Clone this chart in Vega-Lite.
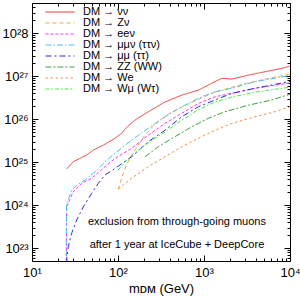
{
  "$schema": "https://vega.github.io/schema/vega-lite/v6.json",
  "width": 258,
  "height": 258,
  "autosize": {"type": "none"},
  "padding": {"left": 32, "top": 3, "right": 10, "bottom": 36},
  "background": "white",
  "config": {
    "view": {"stroke": "black", "strokeWidth": 1},
    "font": "Liberation Sans",
    "axis": {"domain": false, "grid": false, "ticks": true, "tickColor": "black", "tickWidth": 1, "labelColor": "black", "titleColor": "black", "labelFont": "Liberation Sans", "titleFont": "Liberation Sans"},
    "legend": {"orient": "none", "legendX": 12, "legendY": 3, "symbolType": "M-0.9,0L4.9,0", "symbolSize": 100, "symbolStrokeWidth": 1.2, "labelOffset": 27, "labelFontSize": 11, "labelFont": "Liberation Sans", "labelColor": "black", "rowPadding": 0, "padding": 0, "titlePadding": 0}
  },
  "datasets": {
    "curves": [
      {"series": "DM → νν", "m": 25.3, "v": 6.9e24},
      {"series": "DM → νν", "m": 30.2, "v": 1.02e25},
      {"series": "DM → νν", "m": 36.1, "v": 1.22e25},
      {"series": "DM → νν", "m": 43.3, "v": 1.46e25},
      {"series": "DM → νν", "m": 51.6, "v": 1.9e25},
      {"series": "DM → νν", "m": 67.5, "v": 2.48e25},
      {"series": "DM → νν", "m": 88.2, "v": 3.37e25},
      {"series": "DM → νν", "m": 110, "v": 4.65e25},
      {"series": "DM → νν", "m": 126, "v": 6.4e25},
      {"series": "DM → νν", "m": 158, "v": 9.5e25},
      {"series": "DM → νν", "m": 225, "v": 1.48e26},
      {"series": "DM → νν", "m": 352, "v": 2.5e26},
      {"series": "DM → νν", "m": 551, "v": 3.6e26},
      {"series": "DM → νν", "m": 859, "v": 4.7e26},
      {"series": "DM → νν", "m": 1230, "v": 6.8e26},
      {"series": "DM → νν", "m": 1608, "v": 8.85e26},
      {"series": "DM → νν", "m": 2100, "v": 8.5e26},
      {"series": "DM → νν", "m": 3275, "v": 1.05e27},
      {"series": "DM → νν", "m": 5120, "v": 1.26e27},
      {"series": "DM → νν", "m": 8000, "v": 1.51e27},
      {"series": "DM → νν", "m": 10000, "v": 1.71e27},

      {"series": "DM → Zν", "m": 100.8, "v": 2.3e24},
      {"series": "DM → Zν", "m": 111, "v": 4.5e24},
      {"series": "DM → Zν", "m": 124, "v": 8.1e24},
      {"series": "DM → Zν", "m": 138, "v": 1.24e25},
      {"series": "DM → Zν", "m": 162, "v": 2.1e25},
      {"series": "DM → Zν", "m": 206, "v": 4.25e25},
      {"series": "DM → Zν", "m": 269, "v": 7.65e25},
      {"series": "DM → Zν", "m": 402, "v": 1.38e26},
      {"series": "DM → Zν", "m": 687, "v": 2.35e26},
      {"series": "DM → Zν", "m": 1343, "v": 4.25e26},
      {"series": "DM → Zν", "m": 2624, "v": 6.2e26},
      {"series": "DM → Zν", "m": 5120, "v": 8.5e26},
      {"series": "DM → Zν", "m": 10000, "v": 1.11e27},

      {"series": "DM → eeν", "m": 25, "v": 1e22},
      {"series": "DM → eeν", "m": 25.3, "v": 9.1e23},
      {"series": "DM → eeν", "m": 30.2, "v": 2.04e24},
      {"series": "DM → eeν", "m": 37.8, "v": 3.2e24},
      {"series": "DM → eeν", "m": 49.4, "v": 4.2e24},
      {"series": "DM → eeν", "m": 70.6, "v": 7.8e24},
      {"series": "DM → eeν", "m": 92.3, "v": 1.22e25},
      {"series": "DM → eeν", "m": 144, "v": 2.08e25},
      {"series": "DM → eeν", "m": 225, "v": 4.25e25},
      {"series": "DM → eeν", "m": 352, "v": 7.9e25},
      {"series": "DM → eeν", "m": 551, "v": 1.36e26},
      {"series": "DM → eeν", "m": 859, "v": 2.3e26},
      {"series": "DM → eeν", "m": 1343, "v": 3.3e26},
      {"series": "DM → eeν", "m": 2100, "v": 3.96e26},
      {"series": "DM → eeν", "m": 3920, "v": 5.2e26},
      {"series": "DM → eeν", "m": 10000, "v": 6.9e26},

      {"series": "DM → μμν (ττν)", "m": 24.9, "v": 1e22},
      {"series": "DM → μμν (ττν)", "m": 25.2, "v": 1.0e24},
      {"series": "DM → μμν (ττν)", "m": 28.9, "v": 2.23e24},
      {"series": "DM → μμν (ττν)", "m": 33.1, "v": 2.9e24},
      {"series": "DM → μμν (ττν)", "m": 41.3, "v": 3.8e24},
      {"series": "DM → μμν (ττν)", "m": 54, "v": 5.9e24},
      {"series": "DM → μμν (ττν)", "m": 70.6, "v": 1.02e25},
      {"series": "DM → μμν (ττν)", "m": 92.3, "v": 1.6e25},
      {"series": "DM → μμν (ττν)", "m": 144, "v": 3.25e25},
      {"series": "DM → μμν (ττν)", "m": 225, "v": 6.1e25},
      {"series": "DM → μμν (ττν)", "m": 352, "v": 1.13e26},
      {"series": "DM → μμν (ττν)", "m": 551, "v": 1.93e26},
      {"series": "DM → μμν (ττν)", "m": 940, "v": 3.3e26},
      {"series": "DM → μμν (ττν)", "m": 1343, "v": 4.3e26},
      {"series": "DM → μμν (ττν)", "m": 2100, "v": 5.2e26},
      {"series": "DM → μμν (ττν)", "m": 3920, "v": 7.4e26},
      {"series": "DM → μμν (ττν)", "m": 10000, "v": 1.03e27},

      {"series": "DM → μμ (ττ)", "m": 25.3, "v": 1e22},
      {"series": "DM → μμ (ττ)", "m": 25.4, "v": 5.8e22},
      {"series": "DM → μμ (ττ)", "m": 26.4, "v": 1.07e23},
      {"series": "DM → μμ (ττ)", "m": 28.9, "v": 2.2e23},
      {"series": "DM → μμ (ττ)", "m": 33.1, "v": 4.5e23},
      {"series": "DM → μμ (ττ)", "m": 39.5, "v": 9.1e23},
      {"series": "DM → μμ (ττ)", "m": 49.4, "v": 1.87e24},
      {"series": "DM → μμ (ττ)", "m": 59, "v": 3.2e24},
      {"series": "DM → μμ (ττ)", "m": 70.6, "v": 5.0e24},
      {"series": "DM → μμ (ττ)", "m": 92.3, "v": 7.1e24},
      {"series": "DM → μμ (ττ)", "m": 144, "v": 1.33e25},
      {"series": "DM → μμ (ττ)", "m": 225, "v": 2.97e25},
      {"series": "DM → μμ (ττ)", "m": 352, "v": 5.5e25},
      {"series": "DM → μμ (ττ)", "m": 551, "v": 1.13e26},
      {"series": "DM → μμ (ττ)", "m": 859, "v": 1.93e26},
      {"series": "DM → μμ (ττ)", "m": 1343, "v": 2.77e26},
      {"series": "DM → μμ (ττ)", "m": 2100, "v": 3.96e26},
      {"series": "DM → μμ (ττ)", "m": 3920, "v": 5.2e26},
      {"series": "DM → μμ (ττ)", "m": 10000, "v": 7.5e26},

      {"series": "DM → ZZ (WW)", "m": 206, "v": 1.33e25},
      {"series": "DM → ZZ (WW)", "m": 294, "v": 2.27e25},
      {"series": "DM → ZZ (WW)", "m": 460, "v": 3.9e25},
      {"series": "DM → ZZ (WW)", "m": 719, "v": 6.6e25},
      {"series": "DM → ZZ (WW)", "m": 1122, "v": 1.04e26},
      {"series": "DM → ZZ (WW)", "m": 1754, "v": 1.48e26},
      {"series": "DM → ZZ (WW)", "m": 3275, "v": 2.1e26},
      {"series": "DM → ZZ (WW)", "m": 6120, "v": 2.77e26},
      {"series": "DM → ZZ (WW)", "m": 10000, "v": 3.8e26},

      {"series": "DM → We", "m": 100.8, "v": 2.35e24},
      {"series": "DM → We", "m": 144, "v": 4.2e24},
      {"series": "DM → We", "m": 225, "v": 7.8e24},
      {"series": "DM → We", "m": 352, "v": 1.33e25},
      {"series": "DM → We", "m": 551, "v": 2.27e25},
      {"series": "DM → We", "m": 859, "v": 3.56e25},
      {"series": "DM → We", "m": 1343, "v": 5.5e25},
      {"series": "DM → We", "m": 2100, "v": 7.9e25},
      {"series": "DM → We", "m": 3920, "v": 1.13e26},
      {"series": "DM → We", "m": 6700, "v": 1.48e26},
      {"series": "DM → We", "m": 10000, "v": 1.93e26},

      {"series": "DM → Wμ (Wτ)", "m": 100, "v": 6.5e24},
      {"series": "DM → Wμ (Wτ)", "m": 120, "v": 1.0e25},
      {"series": "DM → Wμ (Wτ)", "m": 149, "v": 1.53e25},
      {"series": "DM → Wμ (Wτ)", "m": 223, "v": 2.77e25},
      {"series": "DM → Wμ (Wτ)", "m": 352, "v": 5.0e25},
      {"series": "DM → Wμ (Wτ)", "m": 555, "v": 9.5e25},
      {"series": "DM → Wμ (Wτ)", "m": 851, "v": 1.62e26},
      {"series": "DM → Wμ (Wτ)", "m": 1343, "v": 2.5e26},
      {"series": "DM → Wμ (Wτ)", "m": 2117, "v": 3.25e26},
      {"series": "DM → Wμ (Wτ)", "m": 3920, "v": 4.25e26},
      {"series": "DM → Wμ (Wτ)", "m": 10000, "v": 5.5e26}
    ],
    "notes": [
      {"m": 485, "v": 4.0e23, "label": "exclusion from through-going muons"},
      {"m": 485, "v": 1.17e23, "label": "after 1 year at IceCube + DeepCore"}
    ]
  },
  "layer": [
    {
      "data": {"name": "curves"},
      "mark": {"type": "line", "clip": true, "strokeWidth": 1},
      "encoding": {
        "x": {
          "field": "m", "type": "quantitative",
          "scale": {"type": "log", "domain": [10, 10000], "nice": false},
          "axis": {
            "orient": "bottom",
            "title": "mᴅᴍ (GeV)",
            "titleFontSize": 13, "titleFontWeight": "normal", "titlePadding": 0,
            "values": [10,20,30,40,50,60,70,80,90,100,200,300,400,500,600,700,800,900,1000,2000,3000,4000,5000,6000,7000,8000,9000,10000],
            "labelExpr": "datum.value == 10 ? '10¹' : datum.value == 100 ? '10²' : datum.value == 1000 ? '10³' : datum.value == 10000 ? '10⁴' : ''",
            "labelFontSize": 13, "labelPadding": 11, "labelFlush": false, "labelOverlap": false,
            "tickSize": {"condition": {"test": "abs(log(datum.value)/LN10 - round(log(datum.value)/LN10)) < 0.001", "value": -6}, "value": -3}
          }
        },
        "y": {
          "field": "v", "type": "quantitative",
          "scale": {"type": "log", "domain": [5e22, 5e28], "nice": false},
          "axis": {
            "orient": "left",
            "title": null,
            "values": [6e22,7e22,8e22,9e22,1e23,2e23,3e23,4e23,5e23,6e23,7e23,8e23,9e23,1e24,2e24,3e24,4e24,5e24,6e24,7e24,8e24,9e24,1e25,2e25,3e25,4e25,5e25,6e25,7e25,8e25,9e25,1e26,2e26,3e26,4e26,5e26,6e26,7e26,8e26,9e26,1e27,2e27,3e27,4e27,5e27,6e27,7e27,8e27,9e27,1e28,2e28,3e28,4e28,5e28],
            "labelExpr": "abs(log(datum.value)/LN10 - round(log(datum.value)/LN10)) < 0.001 ? '10' + replace(replace(replace(replace(replace(replace(format(round(log(datum.value)/LN10), 'd'), '2', '²'), '3', '³'), '4', '⁴'), '5', '⁵'), '6', '⁶'), '7', '⁷') : ''",
            "labelFontSize": 13, "labelPadding": 10, "labelFlush": false, "labelOverlap": false,
            "tickSize": {"condition": {"test": "abs(log(datum.value)/LN10 - round(log(datum.value)/LN10)) < 0.001", "value": -6}, "value": -3}
          }
        },
        "color": {
          "field": "series", "type": "nominal", "title": null,
          "scale": {
            "domain": ["DM → νν", "DM → Zν", "DM → eeν", "DM → μμν (ττν)", "DM → μμ (ττ)", "DM → ZZ (WW)", "DM → We", "DM → Wμ (Wτ)"],
            "range": ["#f03c3c", "#f0a848", "#ff30ff", "#50c0f0", "#2828e0", "#40a040", "#f09050", "#44ee44"]
          }
        },
        "strokeDash": {
          "field": "series", "type": "nominal", "title": null,
          "scale": {
            "domain": ["DM → νν", "DM → Zν", "DM → eeν", "DM → μμν (ττν)", "DM → μμ (ττ)", "DM → ZZ (WW)", "DM → We", "DM → Wμ (Wτ)"],
            "range": [[1,0], [4,3], [3,2], [6,2,1.5,2], [6,3,2,3], [6,2,2,2], [2.5,2.5], [4,2,1.5,2]]
          }
        }
      }
    },
    {
      "data": {"name": "notes"},
      "mark": {"type": "text", "fontSize": 11, "font": "Liberation Sans", "color": "black", "align": "center", "baseline": "middle"},
      "encoding": {
        "x": {
          "field": "m", "type": "quantitative",
          "axis": {
            "orient": "top", "title": null, "labels": false,
            "values": [10,20,30,40,50,60,70,80,90,100,200,300,400,500,600,700,800,900,1000,2000,3000,4000,5000,6000,7000,8000,9000,10000],
            "tickSize": {"condition": {"test": "abs(log(datum.value)/LN10 - round(log(datum.value)/LN10)) < 0.001", "value": -6}, "value": -3}
          }
        },
        "y": {
          "field": "v", "type": "quantitative",
          "axis": {
            "orient": "right", "title": null, "labels": false,
            "values": [6e22,7e22,8e22,9e22,1e23,2e23,3e23,4e23,5e23,6e23,7e23,8e23,9e23,1e24,2e24,3e24,4e24,5e24,6e24,7e24,8e24,9e24,1e25,2e25,3e25,4e25,5e25,6e25,7e25,8e25,9e25,1e26,2e26,3e26,4e26,5e26,6e26,7e26,8e26,9e26,1e27,2e27,3e27,4e27,5e27,6e27,7e27,8e27,9e27,1e28,2e28,3e28,4e28,5e28],
            "tickSize": {"condition": {"test": "abs(log(datum.value)/LN10 - round(log(datum.value)/LN10)) < 0.001", "value": -6}, "value": -3}
          }
        },
        "text": {"field": "label"}
      }
    }
  ],
  "resolve": {"axis": {"x": "independent", "y": "independent"}}
}
